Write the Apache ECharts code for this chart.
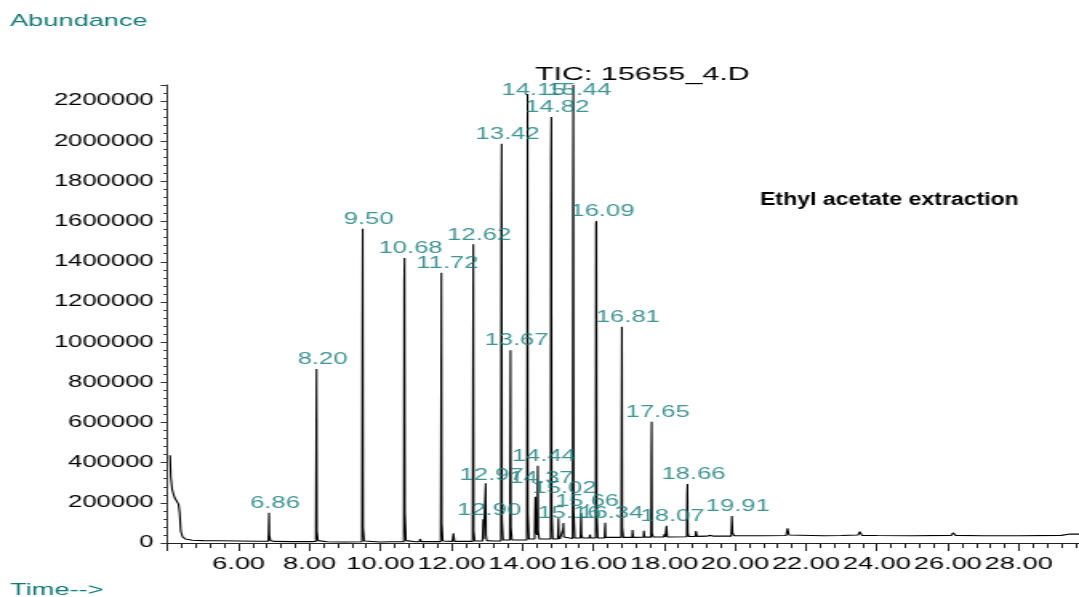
<!DOCTYPE html>
<html>
<head>
<meta charset="utf-8">
<script src="https://cdn.jsdelivr.net/npm/echarts@6/dist/echarts.min.js"></script>
<style>
html,body{margin:0;padding:0;background:#fff;overflow:hidden;width:1079px;height:597px;}
#chart{position:absolute;left:0;top:0;width:674px;height:597px;transform-origin:0 0;transform:scaleX(1.600890);}
</style>
</head>
<body>
<div id="chart"></div>
<script>
// ---- data ----
// total ion chromatogram: [retention time (min), abundance]
const TIC_TRACE = [
  [4.07,437000],[4.09,330000],[4.13,264000],[4.20,225000],[4.27,205000],[4.31,192000],
  [4.34,150000],[4.37,60000],[4.42,30000],[4.50,20000],[4.70,14000],[5.00,12000],
  [5.50,11000],[6.00,10000],[6.50,9000],[6.84,9000],[6.85,70000],[6.86,150000],
  [6.87,40000],[6.90,12000],[7.00,8000],[7.50,7000],[8.00,7000],[8.18,8000],
  [8.19,488000],[8.20,866000],[8.21,60000],[8.24,12000],[8.50,6000],[9.00,5000],
  [9.48,6000],[9.49,1001000],[9.50,1565000],[9.51,80000],[9.54,10000],[10.00,5000],
  [10.30,6000],[10.66,6000],[10.67,1292000],[10.68,1419000],[10.69,150000],[10.72,12000],
  [11.00,6000],[11.10,7000],[11.12,20000],[11.15,7000],[11.70,7000],[11.71,628000],
  [11.72,1345000],[11.73,100000],[11.76,10000],[12.03,8000],[12.06,48000],[12.09,8000],
  [12.60,8000],[12.61,821000],[12.62,1487000],[12.63,60000],[12.66,10000],[12.88,10000],
  [12.89,70000],[12.90,118000],[12.91,20000],[12.96,15000],[12.97,297000],[12.98,40000],
  [13.00,12000],[13.20,10000],[13.40,10000],[13.41,1623000],[13.42,1988000],[13.43,120000],
  [13.46,15000],[13.65,15000],[13.66,512000],[13.67,960000],[13.68,80000],[13.71,15000],
  [14.13,15000],[14.14,844000],[14.15,2235000],[14.16,150000],[14.19,20000],[14.35,20000],
  [14.36,150000],[14.37,230000],[14.38,60000],[14.42,40000],[14.43,250000],[14.44,385000],
  [14.45,60000],[14.48,20000],[14.80,20000],[14.81,1914000],[14.82,2121000],[14.83,150000],
  [14.86,20000],[15.00,20000],[15.01,70000],[15.02,123000],[15.03,30000],[15.06,20000],
  [15.14,20000],[15.15,70000],[15.16,100000],[15.17,30000],[15.20,21000],[15.42,22000],
  [15.43,1731000],[15.44,2280000],[15.45,160000],[15.48,25000],[15.64,25000],[15.65,100000],
  [15.66,148000],[15.67,40000],[15.70,25000],[15.89,25000],[15.91,42000],[15.93,25000],
  [16.07,25000],[16.08,1590000],[16.09,1603000],[16.10,150000],[16.13,25000],[16.32,25000],
  [16.33,70000],[16.34,101000],[16.35,28000],[16.79,28000],[16.80,602000],[16.81,1076000],
  [16.82,80000],[16.85,28000],[17.10,28000],[17.11,65000],[17.13,28000],[17.42,29000],
  [17.43,61000],[17.45,29000],[17.63,29000],[17.64,421000],[17.65,603000],[17.66,50000],
  [17.69,30000],[17.99,30000],[18.01,45000],[18.03,30000],[18.06,30000],[18.07,86000],
  [18.09,30000],[18.64,31000],[18.65,239000],[18.66,293500],[18.67,50000],[18.70,32000],
  [18.88,32000],[18.90,60000],[18.93,33000],[19.20,34000],[19.30,38000],[19.40,34000],
  [19.89,34000],[19.90,81000],[19.91,134000],[19.93,50000],[19.97,36000],[20.78,36000],
  [20.82,43000],[20.86,36000],[21.44,37000],[21.48,73000],[21.52,40000],[21.60,36000],
  [22.50,36000],[23.00,37000],[23.47,40000],[23.52,56000],[23.58,38000],[24.00,37000],
  [25.00,36000],[26.10,38000],[26.15,51000],[26.22,38000],[27.00,36000],[28.00,36000],
  [29.20,38000],[29.45,45000],[29.52,48000],[29.60,44000],[29.70,44000]
];
// labelled peaks: retention time and the abundance at which ChemStation placed the label
const PEAK_TIMES  = [6.86, 8.20, 9.50, 10.68, 11.72, 12.62, 12.90, 12.97, 13.42, 13.67, 14.15, 14.37, 14.44,
                     14.82, 15.02, 15.16, 15.44, 15.66, 16.09, 16.34, 16.81, 17.65, 18.07, 18.66, 19.91];
const LABEL_LEVEL = [150000, 866000, 1565000, 1419000, 1345000, 1487000, 117000, 290000, 1988000, 962000,
                     2205000, 274000, 385000, 2121000, 224000, 100000, 2205000, 160000, 1603000, 101000,
                     1077000, 603000, 86000, 294000, 135000];
const Y_MIN = 0, Y_MAX = 2280000, Y_STEP = 200000;
const X_MIN = 4, X_MAX = 29.7, X_STEP = 2;
const TITLE_TIC = 'TIC: 15655_4.D';
const NOTE = 'Ethyl acetate extraction';
const Y_NAME = 'Abundance';
const X_NAME = 'Time-->';

// ---- drawing ----
const S = 1079 / 674;            // the chart is drawn 674 wide and stretched horizontally
const hx = v => v / S;           // horizontal pixel size in the un-stretched space
const FONT = "'Liberation Sans', Arial, sans-serif";
const TEAL = '#137a78';

const chart = echarts.init(document.getElementById('chart'), null, {renderer: 'canvas'});
chart.setOption({
  animation: false,
  backgroundColor: '#ffffff',
  grid: {left: hx(167.6), right: 0, top: 85, bottom: 54},
  xAxis: {
    type: 'value', min: X_MIN, max: X_MAX, interval: X_STEP,
    axisLine: {show: true, onZero: false, lineStyle: {color: '#222', width: 1}},
    axisTick: {show: true, length: 8, lineStyle: {color: '#222', width: 1}},
    minorTick: {show: true, splitNumber: 5, length: 5, lineStyle: {color: '#222', width: 1}},
    splitLine: {show: false}, minorSplitLine: {show: false},
    axisLabel: {
      margin: 13, fontSize: 17, color: '#000', fontFamily: FONT, showMaxLabel: false,
      formatter: v => (v < 5 || v > 29) ? '' : v.toFixed(2)
    }
  },
  yAxis: {
    type: 'value', min: Y_MIN, max: Y_MAX, interval: Y_STEP,
    axisLine: {show: true, lineStyle: {color: '#333', width: 1}},
    axisTick: {show: true, length: hx(7), lineStyle: {color: '#333', width: 1}},
    minorTick: {show: true, splitNumber: 5, length: hx(4), lineStyle: {color: '#333', width: 1}},
    splitLine: {show: false}, minorSplitLine: {show: false},
    axisLabel: {
      margin: hx(14), fontSize: 16, color: '#000', fontFamily: FONT, showMaxLabel: false,
      formatter: v => v > 2200000 ? '' : String(v)
    }
  },
  series: [
    {
      type: 'line', data: TIC_TRACE, showSymbol: false, symbol: 'none',
      lineStyle: {color: '#000', width: 1.1}, clip: true, z: 2
    },
    {
      type: 'scatter', symbolSize: 0, z: 3,
      data: PEAK_TIMES.map((t, i) => [t, LABEL_LEVEL[i]]),
      label: {
        show: true, position: 'top', distance: 1, offset: [hx(6), 0],
        fontSize: 16, color: TEAL, fontFamily: FONT,
        formatter: p => p.value[0].toFixed(2)
      }
    }
  ],
  graphic: [
    {type: 'text', x: hx(10), y: 21, silent: true,
     style: {text: Y_NAME, font: "17px " + FONT, fill: TEAL, align: 'left', verticalAlign: 'middle', textAlign: 'left', textVerticalAlign: 'middle'}},
    {type: 'text', x: hx(10), y: 590, silent: true,
     style: {text: X_NAME, font: "17px " + FONT, fill: TEAL, align: 'left', verticalAlign: 'middle', textAlign: 'left', textVerticalAlign: 'middle'}},
    {type: 'text', x: hx(535), y: 75, silent: true,
     style: {text: TITLE_TIC, font: "19px " + FONT, fill: '#000', align: 'left', verticalAlign: 'middle', textAlign: 'left', textVerticalAlign: 'middle'}},
    {type: 'text', x: hx(760), y: 200, scaleX: 0.8, silent: true,
     style: {text: NOTE, font: "bold 18px " + FONT, fill: '#000', align: 'left', verticalAlign: 'middle', textAlign: 'left', textVerticalAlign: 'middle'}}
  ]
});
</script>
</body>
</html>
